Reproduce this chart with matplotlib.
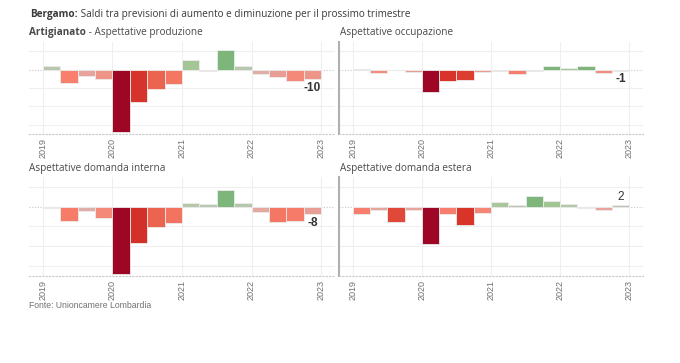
import matplotlib.pyplot as plt
import numpy as np
from matplotlib.colors import LinearSegmentedColormap

# trimestri 2019Q1 - 2022Q4
trimestri = np.arange(2019, 2023, 0.25)

titoli = ["Aspettative produzione", "Aspettative occupazione",
          "Aspettative domanda interna", "Aspettative domanda estera"]

produzione = [4, -14, -7, -10, -68, -35, -21, -16, 11, -1, 21, 4, -5, -8, -12, -10]
occupazione = [1, -4, 0, -3, -24, -12, -11, -3, -2, -5, -1, 4, 2, 4, -4, -1]
domanda_interna = [-1, -15, -5, -12, -68, -37, -21, -17, 4, 3, 17, 4, -6, -16, -15, -8]
domanda_estera = [-8, -4, -16, -4, -38, -8, -19, -7, 5, 2, 11, 6, 3, -1, -4, 2]

serie = [produzione, occupazione, domanda_interna, domanda_estera]
anni = [2019, 2020, 2021, 2022, 2023]

# scale colori divergenti (normalizzate per pannello)
cmap_neg = LinearSegmentedColormap.from_list("neg", [
    (0.0, "#cdc2bb"), (0.1, "#e6a59d"), (0.2, "#f8806f"),
    (0.3, "#ec6651"), (0.5, "#d8342a"), (1.0, "#9e0626")])
cmap_pos = LinearSegmentedColormap.from_list("pos", [
    (0.0, "#c8cac2"), (0.2, "#b8c7ae"), (0.5, "#a6c797"), (1.0, "#7db57a")])


def colori(valori):
    vmin, vmax = min(valori), max(valori)
    out = []
    for v in valori:
        if v < 0:
            out.append(cmap_neg(v / vmin))
        elif v > 0:
            out.append(cmap_pos(v / vmax))
        else:
            out.append("#c8c8c2")
    return out


fig = plt.figure(figsize=(6.8, 3.63), dpi=100)

posizioni = [
    [0.0426, 0.631, 0.450, 0.253],
    [0.4985, 0.631, 0.447, 0.253],
    [0.0426, 0.240, 0.450, 0.273],
    [0.4985, 0.240, 0.447, 0.273],
]

for i, (valori, pos) in enumerate(zip(serie, posizioni)):
    ax = fig.add_axes(pos)
    ax.bar(trimestri, valori, width=0.25, align="edge", color=colori(valori),
           edgecolor="#ececec", linewidth=0.6, zorder=3)
    ax.set_xlim(2018.8, 2023.2)
    ax.set_ylim(-70, 30)
    ax.set_xticks(anni)
    ax.set_xticklabels([str(a) for a in anni], rotation=90, fontsize=6.5,
                       color="#707070", family="Liberation Sans")
    ax.set_yticks([20, -20, -40, -60])
    ax.set_yticklabels([])
    ax.tick_params(length=0, pad=3)
    ax.grid(True, color="#efefef", linewidth=0.8, zorder=0)
    ax.axhline(0, color="#c8c8c8", linestyle=(0, (1, 1.5)), linewidth=0.8, zorder=1)
    for s in ["top", "right", "left"]:
        ax.spines[s].set_visible(False)
    ax.spines["bottom"].set_color("#c8c8c8")
    ax.spines["bottom"].set_linestyle((0, (1, 2)))
    ax.spines["bottom"].set_linewidth(0.8)
    if i % 2 == 1:
        ax.spines["left"].set_visible(True)
        ax.spines["left"].set_color("#b0b0b0")
        ax.spines["left"].set_linewidth(1.5)

    # etichetta ultimo valore
    ultimo = valori[-1]
    xc = trimestri[-1] + 0.125
    if ultimo < 0:
        ax.annotate(str(ultimo), (xc, ultimo), xytext=(0, -2), textcoords="offset points",
                    ha="center", va="top", fontsize=8.5, color="#333333",
                    family="Liberation Sans", fontweight="bold")
    else:
        ax.annotate(str(ultimo), (xc, ultimo), xytext=(0, 1), textcoords="offset points",
                    ha="center", va="bottom", fontsize=8.5, color="#333333",
                    family="Liberation Sans")

fig.canvas.draw()
renderer = fig.canvas.get_renderer()


def testo_misto(x, y, grassetto, normale, size, color):
    t1 = fig.text(x, y, grassetto, fontsize=size, fontweight="bold", color=color,
                  family="Open Sans", va="center")
    bb = t1.get_window_extent(renderer=renderer)
    x2 = bb.x1 / fig.bbox.width
    fig.text(x2, y, normale, fontsize=size, color=color, family="Open Sans", va="center")


testo_misto(0.044, 1 - 15 / 363, "Bergamo:", " Saldi tra previsioni di aumento e diminuzione per il prossimo trimestre",
            7.2, "#3a3a3a")
testo_misto(0.043, 1 - 33 / 363, "Artigianato", " - Aspettative produzione", 7.2, "#4a4a4a")
fig.text(0.5, 1 - 33 / 363, titoli[1], fontsize=7.2, color="#4a4a4a", family="Open Sans", va="center")
fig.text(0.043, 1 - 168 / 363, titoli[2], fontsize=7.2, color="#4a4a4a", family="Open Sans", va="center")
fig.text(0.5, 1 - 168 / 363, titoli[3], fontsize=7.2, color="#4a4a4a", family="Open Sans", va="center")

fig.text(0.043, 1 - 306 / 363, "Fonte: Unioncamere Lombardia", fontsize=6.2, color="#707070",
         family="Liberation Sans", va="center")

fig.savefig("out.png", dpi=100)
